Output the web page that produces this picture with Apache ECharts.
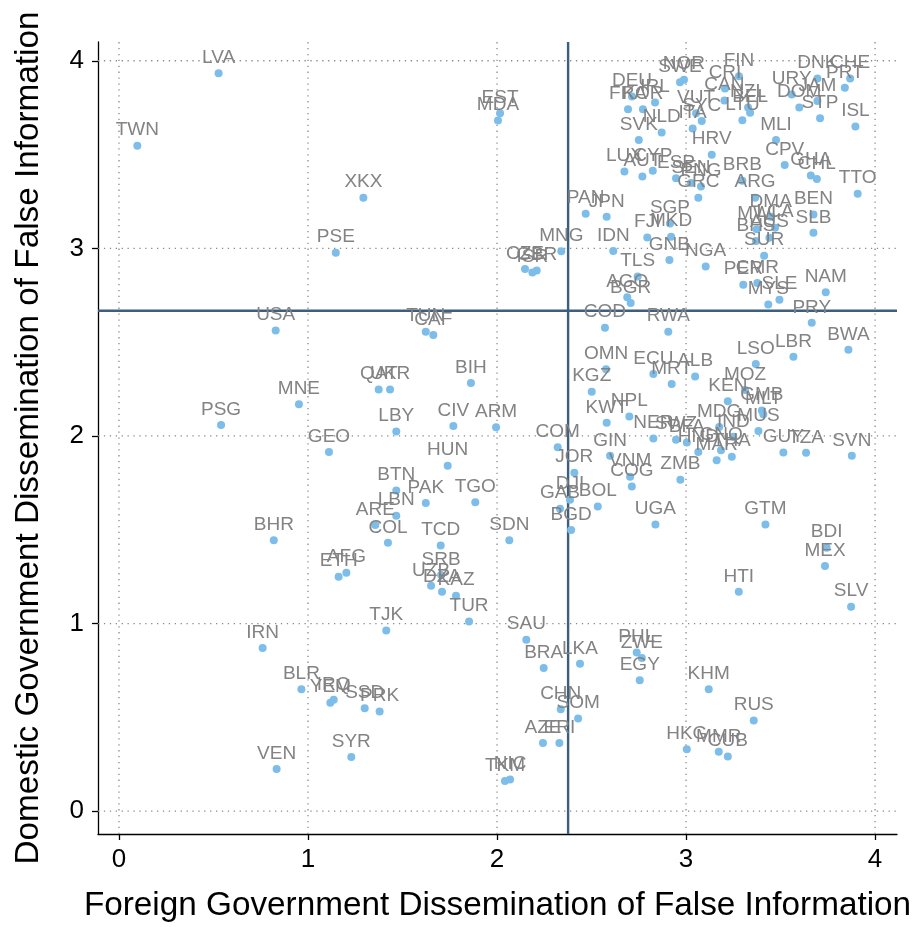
<!DOCTYPE html>
<html><head><meta charset="utf-8">
<script src="https://cdn.jsdelivr.net/npm/echarts@6/dist/echarts.min.js"></script>
<style>html,body{margin:0;padding:0;background:#fff;overflow:hidden}#c{width:917px;height:927px}</style>
</head><body><div id="c"></div>
<script>
const codes = ["LVA","TWN","XKX","PSE","EST","MDA","PAN","JPN","MNG","CZE","ISR","GBR","TUN","CAF",
"SWE","NOR","FIN","CRI","CAN","NZL","BEL","LTU","DEU","IRL","FRA","KOR","VUT","SYC","ITA","SVK","NLD","HRV",
"LUX","CYP","AUT","ESP","SEN","PNG","GRC","BRB","DNK","CHE","PRT","URY","JAM","DOM","STP","ISL","MLI","CPV",
"GHA","CHL","TTO","ARG","BEN","SLB","DMA","MWI","LCA","AUS","BHS","SUR","PER","CMR","SLE","MYS","NAM","PRY",
"SGP","FJI","MKD","IDN","GNB","NGA","TLS","AGO","BGR","COD","RWA","OMN","ECU","ALB","MRT","KGZ","KWT","NPL",
"NER","SWZ","BFA","GIN","KEN","MDG","IND","HND","GNQ","MAR","THA","LSO","LBR","BWA","MOZ","GMB","MLT","MUS",
"GUY","TZA","SVN","BIH","CIV","ARM","HUN","PAK","TGO","TCD","SDN","COM","JOR","DJI","GAB","BOL","BGD","USA",
"QAT","UKR","MNE","PSG","LBY","GEO","BTN","LBN","ARE","COL","BHR","AFG","ETH","SRB","UZB","DZA","KAZ","TUR",
"TJK","IRN","BLR","YEM","IRQ","SSD","PRK","SYR","VEN","VNM","COG","ZMB","UGA","GTM","BDI","MEX","HTI","SLV",
"SAU","BRA","LKA","PHL","ZWE","EGY","KHM","RUS","CHN","SOM","AZE","ERI","HKG","MMR","CUB","TKM","NIC"];
const foreign = [0.527,0.097,1.293,1.147,2.016,2.005,2.469,2.580,2.340,2.148,2.187,2.210,1.623,1.663,
2.968,2.989,3.280,3.206,3.203,3.328,3.339,3.298,2.714,2.836,2.693,2.772,3.053,3.083,3.035,2.750,2.871,3.136,
2.674,2.824,2.769,2.947,3.026,3.079,3.065,3.298,3.695,3.868,3.840,3.559,3.695,3.599,3.709,3.896,3.476,3.522,
3.660,3.692,3.908,3.365,3.674,3.674,3.448,3.374,3.471,3.441,3.370,3.413,3.303,3.377,3.494,3.435,3.739,3.665,
2.915,2.795,2.921,2.615,2.912,3.104,2.744,2.689,2.707,2.571,2.906,2.577,2.827,3.048,2.924,2.501,2.580,2.700,
2.827,2.947,3.004,2.598,3.221,3.175,3.250,3.065,3.185,3.162,3.242,3.369,3.568,3.859,3.312,3.401,3.409,3.383,
3.515,3.635,3.877,1.862,1.769,1.995,1.739,1.623,1.885,1.702,2.065,2.321,2.409,2.386,2.333,2.533,2.392,0.829,
1.374,1.434,0.952,0.540,1.467,1.111,1.467,1.467,1.356,1.423,0.819,1.203,1.162,1.704,1.651,1.709,1.783,1.852,
1.414,0.760,0.965,1.118,1.136,1.300,1.379,1.229,0.834,2.704,2.713,2.970,2.838,3.420,3.744,3.735,3.279,3.873,
2.155,2.247,2.439,2.739,2.766,2.755,3.120,3.358,2.337,2.429,2.243,2.330,3.004,3.173,3.221,2.042,2.069];
const domestic = [3.933,3.547,3.270,2.977,3.720,3.681,3.185,3.168,2.984,2.890,2.871,2.882,2.556,2.538,
3.885,3.899,3.917,3.852,3.788,3.751,3.723,3.683,3.810,3.778,3.741,3.741,3.720,3.679,3.639,3.578,3.617,3.499,
3.409,3.413,3.383,3.374,3.349,3.330,3.270,3.361,3.905,3.905,3.856,3.820,3.785,3.751,3.693,3.649,3.578,3.444,
3.388,3.370,3.291,3.270,3.180,3.083,3.168,3.102,3.110,3.057,3.039,2.961,2.806,2.815,2.726,2.700,2.766,2.603,
3.132,3.058,3.062,2.986,2.938,2.903,2.850,2.739,2.709,2.577,2.556,2.356,2.330,2.317,2.277,2.236,2.070,2.104,
1.986,1.980,1.965,1.894,2.185,2.048,1.995,1.915,1.924,1.871,1.889,2.383,2.422,2.459,2.245,2.136,2.115,2.026,
1.912,1.910,1.894,2.282,2.053,2.046,1.841,1.642,1.647,1.416,1.444,1.940,1.804,1.660,1.612,1.624,1.499,2.562,
2.247,2.247,2.169,2.058,2.023,1.915,1.709,1.575,1.525,1.430,1.444,1.271,1.250,1.259,1.201,1.169,1.148,1.011,
0.963,0.869,0.649,0.578,0.593,0.549,0.531,0.289,0.224,1.783,1.730,1.767,1.528,1.528,1.404,1.307,1.169,1.090,
0.914,0.763,0.785,0.845,0.816,0.698,0.649,0.483,0.543,0.494,0.363,0.363,0.330,0.316,0.291,0.160,0.169];
const xTicks = [0,1,2,3,4];
const yTicks = [0,1,2,3,4];
const xRange = [-0.111, 4.116];
const yRange = [-0.122, 4.10];
const meanForeign = 2.376;
const meanDomestic = 2.667;

const FONT = '"Liberation Sans", Arial, Helvetica, sans-serif';
const pts = codes.map((c,i)=>({value:[foreign[i],domestic[i]], name:c}));
const gridDot = {color:'#8a8a8a', width:1.3, type:[1.3,4.6]};
const series = [];
xTicks.forEach(t=>series.push({type:'line',data:[[t,yRange[0]],[t,yRange[1]]],symbol:'none',lineStyle:gridDot,silent:true,z:1,animation:false}));
yTicks.forEach(t=>series.push({type:'line',data:[[xRange[0],t],[xRange[1],t]],symbol:'none',lineStyle:gridDot,silent:true,z:1,animation:false}));
series.push({type:'line',data:[[meanForeign,yRange[0]],[meanForeign,yRange[1]]],symbol:'none',lineStyle:{color:'#3d5e7c',width:2.4},z:2,animation:false});
series.push({type:'line',data:[[xRange[0],meanDomestic],[xRange[1],meanDomestic]],symbol:'none',lineStyle:{color:'#3d5e7c',width:2.4},z:2,animation:false});
series.push({type:'scatter',data:pts,symbolSize:8,itemStyle:{color:'#7dbde9',opacity:1},z:5,animation:false,
  label:{show:true,position:'top',distance:2,formatter:p=>p.name,color:'#838383',fontSize:19,fontFamily:FONT}});

const chart = echarts.init(document.getElementById('c'),null,{renderer:'canvas',width:917,height:927});
chart.setOption({
  animation:false,
  grid:{left:98,top:42,width:799,height:798},
  xAxis:{type:'value',min:xRange[0],max:xRange[1],
    name:'Foreign Government Dissemination of False Information',nameLocation:'middle',nameGap:55,
    nameTextStyle:{fontSize:33.3,color:'#000',fontFamily:FONT},
    axisLine:{show:true,onZero:false,lineStyle:{color:'#000',width:1.3}},
    axisTick:{show:true,length:6,inside:false,customValues:xTicks,lineStyle:{color:'#000',width:1.3}},
    axisLabel:{customValues:xTicks,fontSize:26,color:'#000',margin:13,fontFamily:FONT},
    splitLine:{show:false}},
  yAxis:{type:'value',min:yRange[0],max:yRange[1],
    name:'Domestic Government Dissemination of False Information',nameLocation:'middle',nameGap:53,
    nameTextStyle:{fontSize:33.3,color:'#000',fontFamily:FONT},
    axisLine:{show:true,onZero:false,lineStyle:{color:'#000',width:1.3}},
    axisTick:{show:true,length:6,inside:false,customValues:yTicks,lineStyle:{color:'#000',width:1.3}},
    axisLabel:{customValues:yTicks,fontSize:26,color:'#000',margin:14,fontFamily:FONT},
    splitLine:{show:false}},
  series:series
});
</script></body></html>
